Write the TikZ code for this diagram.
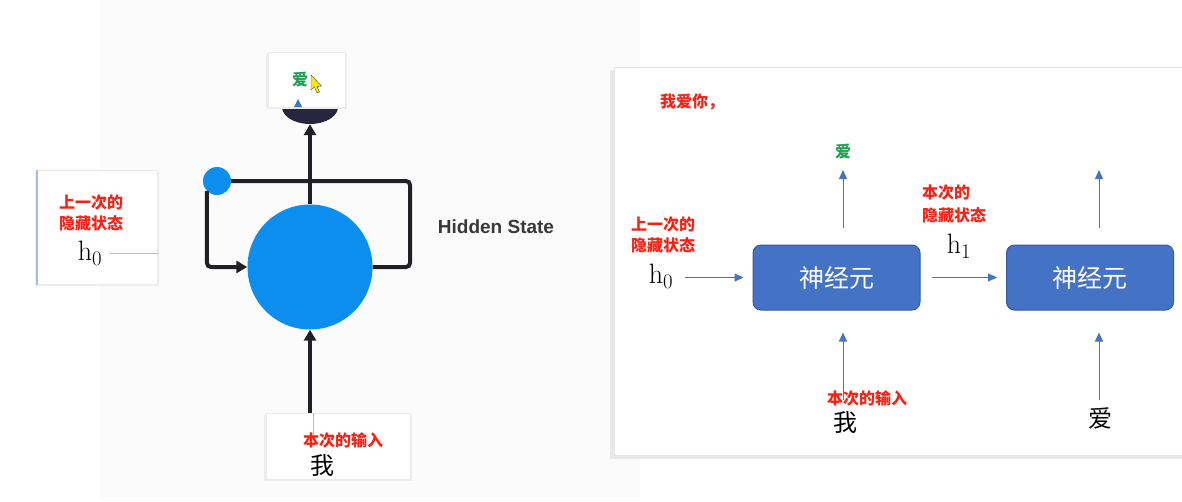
\documentclass[tikz,border=0pt]{standalone}
\usepackage{fontspec}
\usetikzlibrary{arrows.meta,shapes.geometric}
\newfontfamily\cjk{Noto Sans CJK SC}
\newfontfamily\hsans{Liberation Sans}
\definecolor{bigblue}{RGB}{12,142,238}
\definecolor{loopcol}{RGB}{32,32,38}
\definecolor{navy}{RGB}{38,38,62}
\definecolor{boxblue}{RGB}{68,114,196}
\definecolor{boxborder}{RGB}{52,90,160}
\definecolor{arrowblue}{RGB}{68,114,196}
\definecolor{myred}{RGB}{250,32,20}
\definecolor{mygreen}{RGB}{30,160,80}
\definecolor{thinblue}{RGB}{160,190,235}
\tikzset{
  wbox/.style={fill=white, draw=black!8, line width=0.6pt, inner sep=0, anchor=north west},
  shadowc/.style={fill=black!7},
  redt/.style={text=myred, font=\cjk\bfseries\fontsize{16}{19}\selectfont, inner sep=0},
  greent/.style={text=mygreen, font=\cjk\bfseries\fontsize{16}{19}\selectfont, inner sep=0},
  bigt/.style={text=black, font=\cjk\fontsize{24}{28}\selectfont, inner sep=0},
  ht/.style={text=black, font=\fontsize{28}{32}\selectfont, inner sep=0},
  loopline/.style={draw=loopcol, line width=4pt, rounded corners=4pt},
  looparrow/.style={loopline, -{Triangle[length=11pt,width=12pt]}},
  barrow/.style={draw=arrowblue, line width=1pt, -{Triangle[length=9pt,width=8pt]}},
  nbox/.style={rounded corners=8pt, fill=boxblue, draw=boxborder, line width=1pt,
    minimum width=167pt, minimum height=65pt, text=white,
    font=\cjk\fontsize{25}{29}\selectfont},
}
\begin{document}
\begin{tikzpicture}[x=1pt,y=-1pt]
\useasboundingbox (0,0) rectangle (1182,501);
\fill[white] (0,0) rectangle (1182,501);
\fill[black!1.5] (100,0) rectangle (640,501);

% ---------- left panel ----------
% hidden-state box on the left
\fill[shadowc] (35,172) rectangle (159,286);
\node[wbox, minimum width=120pt, minimum height=114pt] (lbox) at (37,170) {};
\draw[thinblue, line width=1.5pt] (lbox.north west) -- (lbox.south west);
\node[redt] (lt1) at (91,203) {上一次的};
\node[redt] (lt2) at (91,223) {隐藏状态};
\node[ht] (lh0) at (90,253) {$\mathrm{h}_0$};
\draw[thinblue, line width=1pt] ([xshift=8pt]lh0.east) -- (lbox.east |- lh0.east);

% big cell and loop
\node[circle, fill=bigblue, minimum size=125pt, inner sep=0] (cell) at (310,267) {};
\node[circle, fill=bigblue, minimum size=28pt, inner sep=0] (dot) at (217,181) {};
\coordinate (rtop) at (410,181);
\draw[loopline] (cell.east) -- (cell.east -| rtop) -- (rtop) -- (dot);
\draw[looparrow] (dot.south west) |- (cell.west);

% output half ellipse and top box
\node[ellipse, fill=navy, minimum width=56pt, minimum height=34pt, inner sep=0] (hc) at (310,107) {};
\fill[shadowc] (266,54) rectangle (347,109);
\node[wbox, minimum width=77pt, minimum height=55pt] (tbox) at (268,52) {};
\draw[looparrow] (cell.north) -- (hc.south);
\node[greent] (tai) at (300,80) {爱};
\fill[arrowblue] (294,107) -- (298,99) -- (302,107) -- cycle;
% mouse cursor
\filldraw[fill=yellow!90!orange, draw=black!70, line width=0.4pt]
  (311,75) -- (311,90) -- (314.5,87) -- (317,93) -- (319.5,92) -- (317,86.5) -- (321.5,86) -- cycle;

% bottom input box
\fill[shadowc] (264,415) rectangle (412,481);
\node[wbox, minimum width=144pt, minimum height=66pt] (bbox) at (266,413) {};
\draw[looparrow] (bbox.north -| cell) -- (cell.south);
\draw[thinblue, line width=0.8pt] (313,413) -- (313,440);
\node[redt] (bt1) at (343,440) {本次的输入};
\node[bigt] (bwo) at (322,466) {我};

\node[text=black!78, font=\hsans\bfseries\fontsize{19}{22}\selectfont, inner sep=0] (hs) at (496,227) {Hidden State};

% ---------- right panel ----------
\fill[black!9] (610,70) rectangle (1190,459);
\node[wbox, draw=black!10, minimum width=576pt, minimum height=388pt] (panel) at (614,67) {};
\node[redt, anchor=west] (title) at (660,102) {我爱你，};

\node[nbox] (n1) at (836.5,277.5) {神经元};
\node[nbox] (n2) at (1090,277.5) {神经元};

% left inputs of neuron 1
\node[redt] (r1) at (663,225) {上一次的};
\node[redt] (r2) at (663,245) {隐藏状态};
\node[ht] (rh0) at (661,276) {$\mathrm{h}_0$};
\draw[barrow, shorten <=12pt, shorten >=9pt] (rh0.east |- n1.west) -- (n1.west);

% between neurons
\node[redt] (m1) at (946,193) {本次的};
\node[redt] (m2) at (954,215) {隐藏状态};
\node[ht] (rh1) at (959,246) {$\mathrm{h}_1$};
\draw[barrow, shorten <=11pt, shorten >=9pt] (n1.east) -- (n2.west);

% outputs
\coordinate (o1) at (843,170);
\coordinate (o2) at (1099,170);
\draw[barrow, shorten <=17pt] (n1.north -| o1) -- (o1);
\draw[barrow, shorten <=17pt] (n2.north -| o2) -- (o2);
\node[greent] (g1) at (843,152) {爱};

% inputs
\coordinate (i1) at (843,400);
\coordinate (i2) at (1099,400);
\draw[barrow, shorten >=22pt] (i1) -- (n1.south -| i1);
\draw[barrow, shorten >=22pt] (i2) -- (n2.south -| i2);
\node[redt] (in1) at (867,398) {本次的输入};
\node[bigt] (w1) at (845,423) {我};
\node[bigt] (w2) at (1100,418) {爱};
\end{tikzpicture}
\end{document}
